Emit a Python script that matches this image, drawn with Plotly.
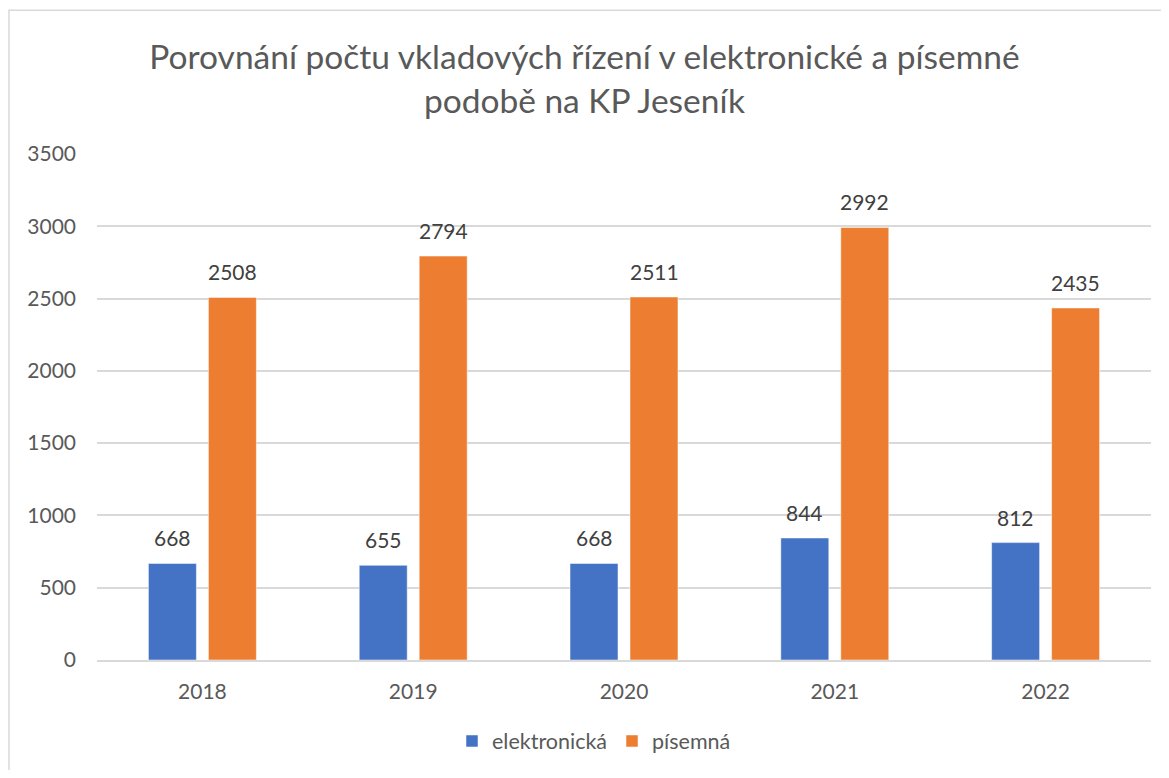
import plotly.graph_objects as go

years = ["2018", "2019", "2020", "2021", "2022"]
elektronicka = [668, 655, 668, 844, 812]
pisemna = [2508, 2794, 2511, 2992, 2435]
title_text = "Porovnání počtu vkladových řízení v elektronické a písemné<br>podobě na KP Jeseník"

FONT = "Lato, 'Open Sans', sans-serif"
OFF = 8  # page body margin
W, H = 1169 - 2 * OFF, 778 - 2 * OFF
L, T = 97 - OFF, 154 - OFF
R = W - (1151 - OFF)
B = H - (661 - OFF)
pw, ph = W - L - R, H - T - B

def px(x):  # screen px -> paper x
    return (x - OFF - L) / pw

def py(y):  # screen px -> paper y
    return (H - B - (y - OFF)) / ph

fig = go.Figure()
fig.add_trace(go.Bar(x=years, y=elektronicka, name="elektronická",
                     marker=dict(color="#4472C4", line=dict(color="#FFFFFF", width=0.5))))
fig.add_trace(go.Bar(x=years, y=pisemna, name="písemná",
                     marker=dict(color="#ED7D31", line=dict(color="#FFFFFF", width=0.5))))

annotations = []
for vals, shift in ((elektronicka, -30), (pisemna, 30)):
    for i, v in enumerate(vals):  # category index on the x axis
        annotations.append(dict(x=i, y=v, xref="x", yref="y", text=str(v), showarrow=False,
                                xshift=shift, yshift=11, yanchor="bottom", xanchor="center",
                                font=dict(size=21, color="#404040", family=FONT)))

fig.update_layout(
    width=W, height=H,
    margin=dict(l=L, r=R, t=T, b=B),
    paper_bgcolor="white", plot_bgcolor="white",
    font=dict(family=FONT, color="#595959", size=21),
    title=dict(text=title_text, x=0.5, xanchor="center", y=1 - 61 / H, yanchor="middle",
               font=dict(size=33.5, color="#595959", family=FONT)),
    barmode="group", bargap=0.431, bargroupgap=0.2,
    xaxis=dict(type="category", categoryorder="array", categoryarray=years,
               showgrid=False, showline=True, linecolor="#D9D9D9", linewidth=1.5,
               ticks="", ticklabelstandoff=12, tickfont=dict(size=21, color="#595959")),
    yaxis=dict(range=[0, 3500], dtick=500, showgrid=True, gridcolor="#D9D9D9", gridwidth=1.5,
               zeroline=False, ticks="", ticklabelstandoff=20,
               tickfont=dict(size=21, color="#595959")),
    legend=dict(orientation="h", x=px(594), xanchor="center", y=py(741), yanchor="middle",
                font=dict(size=21.5, color="#595959")),
    showlegend=True,
    annotations=annotations,
    shapes=[dict(type="rect", xref="paper", yref="paper",
                 x0=px(9), x1=px(1169 + 30), y0=py(778 + 30), y1=py(10),
                 line=dict(color="#D9D9D9", width=1.5), fillcolor="rgba(0,0,0,0)", layer="below")],
)

fig.write_html("out.html")
